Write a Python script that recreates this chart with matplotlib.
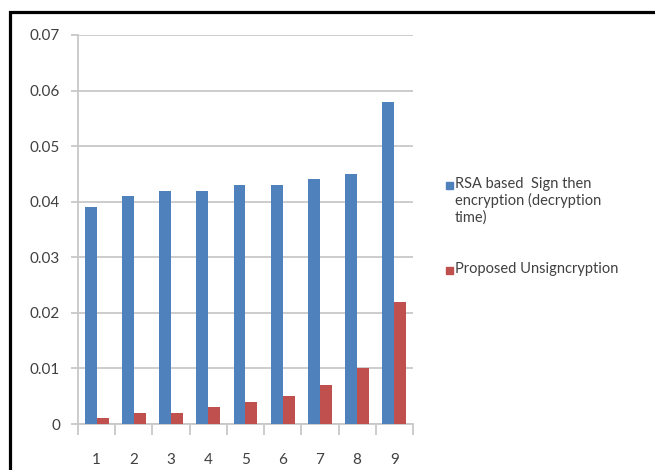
import matplotlib
matplotlib.use("Agg")
import matplotlib.pyplot as plt
import numpy as np
from matplotlib.patches import Rectangle

# decryption time per test case
cases = ["1", "2", "3", "4", "5", "6", "7", "8", "9"]
rsa_sign_then_encrypt = [0.039, 0.041, 0.042, 0.042, 0.043, 0.043, 0.044, 0.045, 0.058]
proposed_unsigncryption = [0.001, 0.002, 0.002, 0.003, 0.004, 0.005, 0.007, 0.010, 0.022]
yticks = [0, 0.01, 0.02, 0.03, 0.04, 0.05, 0.06, 0.07]
ytick_labels = ["0", "0.01", "0.02", "0.03", "0.04", "0.05", "0.06", "0.07"]
series_names = ["RSA based  Sign then\nencryption (decryption\ntime)",
                "Proposed Unsigncryption"]

BLUE = "#4F81BD"
RED = "#C0504D"
GRID = "#c8c8c8"
TEXT = "#404040"

plt.rcParams["font.family"] = ["Lato", "DejaVu Sans"]

W, H = 655, 470
fig = plt.figure(figsize=(W / 100, H / 100), dpi=100)
ax = fig.add_axes([78 / W, 1 - 424 / H, (413 - 78) / W, (424 - 35) / H])

x = np.arange(len(cases))
w = 0.32
ax.bar(x - w / 2, rsa_sign_then_encrypt, w, color=BLUE, zorder=3)
ax.bar(x + w / 2, proposed_unsigncryption, w, color=RED, zorder=3)

ax.set_xlim(-0.5, len(cases) - 0.5)
ax.set_ylim(0, 0.07)
ax.set_yticks(yticks)
ax.set_yticklabels(ytick_labels)
ax.set_xticks(x)
ax.set_xticklabels(cases)
ax.set_xticks(np.arange(-0.5, len(cases)), minor=True)

ax.grid(axis="y", color=GRID, lw=1.3, zorder=0)
for side in ("top", "right"):
    ax.spines[side].set_visible(False)
for side in ("left", "bottom"):
    ax.spines[side].set_color(GRID)
    ax.spines[side].set_linewidth(1.3)

ax.tick_params(axis="y", length=5, color=GRID, width=1.3, labelsize=11,
               labelcolor=TEXT, pad=8)
ax.tick_params(axis="x", which="major", length=0, labelsize=11,
               labelcolor=TEXT, pad=21)
ax.tick_params(axis="x", which="minor", length=8, color=GRID, width=1.3)

# legend: square marker beside the first line of each label
legend_rows = [(BLUE, series_names[0], 185), (RED, series_names[1], 270)]
for color, name, ypix in legend_rows:
    fig.patches.append(Rectangle((446 / W, 1 - (ypix + 3.5) / H), 7 / W, 7 / H,
                                 transform=fig.transFigure, color=color))
    fig.text(455 / W, 1 - (ypix - 8) / H, name, ha="left", va="top",
             fontsize=10.5, color=TEXT, linespacing=1.2)

# black frame along the left and top
fig.patches.append(Rectangle((9.5 / W, -0.1), 1.2, 1.1 - 12 / H,
                             transform=fig.transFigure, fill=False,
                             edgecolor="black", lw=2.3))

fig.savefig("out.png", dpi=100)
